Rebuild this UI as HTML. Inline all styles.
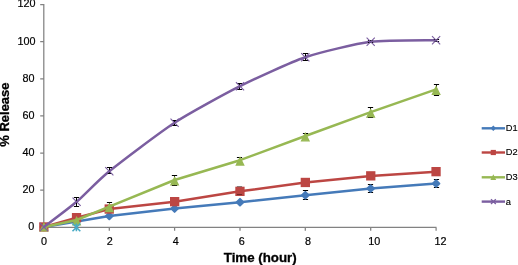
<!DOCTYPE html>
<html><head><meta charset="utf-8"><title>Release chart</title>
<style>html,body{margin:0;padding:0;background:#fff;overflow:hidden}svg{display:block}</style>
</head><body>
<svg width="518" height="265" viewBox="0 0 518 265">
<rect width="518" height="265" fill="#fff"/>
<path d="M43.8,4.1V227.4H436.5M40.2,4.6H43.8M40.2,41.7H43.8M40.2,78.8H43.8M40.2,115.9H43.8M40.2,153.0H43.8M40.2,190.1H43.8M40.2,227.2H43.8M43.9,227.4V230.8M109.3,227.4V230.8M174.6,227.4V230.8M240.0,227.4V230.8M305.3,227.4V230.8M370.7,227.4V230.8M436.1,227.4V230.8" fill="none" stroke="#828282" stroke-width="1.25"/>
<g font-family="Liberation Sans, Arial, Helvetica, sans-serif" font-size="10.8" fill="#000" stroke="#000" stroke-width="0.2">
<text x="35.5" y="7.1" text-anchor="end">120</text>
<text x="35.5" y="44.7" text-anchor="end">100</text>
<text x="34.5" y="81.8" text-anchor="end">80</text>
<text x="34.5" y="118.9" text-anchor="end">60</text>
<text x="34.5" y="156.0" text-anchor="end">40</text>
<text x="34.5" y="193.1" text-anchor="end">20</text>
<text x="34.2" y="230.2" text-anchor="end">0</text>
<text x="44.1" y="244.6" text-anchor="middle">0</text>
<text x="109.7" y="244.6" text-anchor="middle">2</text>
<text x="175.8" y="244.6" text-anchor="middle">4</text>
<text x="241.8" y="244.6" text-anchor="middle">6</text>
<text x="307.9" y="244.6" text-anchor="middle">8</text>
<text x="374.3" y="244.6" text-anchor="middle">10</text>
<text x="440.5" y="244.6" text-anchor="middle">12</text>
</g>
<g font-family="Liberation Sans, Arial, Helvetica, sans-serif" font-weight="bold" fill="#000" stroke="#000" stroke-width="0.3">
<text x="260.2" y="261.6" font-size="13.3" text-anchor="middle">Time (hour)</text>
<text transform="translate(9.3,114.6) rotate(-90)" font-size="13" text-anchor="middle">% Release</text>
</g>
<polyline points="43.9,227.0 76.6,221.6 109.3,216.0 174.6,208.6 240.0,202.2 305.3,195.3 370.7,188.5 436.1,183.6" fill="none" stroke="#457ab9" stroke-width="2.5" stroke-linejoin="round" stroke-linecap="round"/>
<path d="M305.5,190.5V199.5M302.9,190.5h5.2M302.9,199.5h5.2M370.5,184.5V192.5M367.9,184.5h5.2M367.9,192.5h5.2M436.5,179.5V187.5M433.9,179.5h5.2M433.9,187.5h5.2" fill="none" stroke="#000" stroke-width="1"/>
<path d="M43.9,223.7l3.3,3.3l-3.3,3.3l-3.3,-3.3z" fill="#457ab9" stroke="#457ab9" stroke-width="2.0" stroke-linejoin="round"/><path d="M76.6,218.3l3.3,3.3l-3.3,3.3l-3.3,-3.3z" fill="#457ab9" stroke="#457ab9" stroke-width="2.0" stroke-linejoin="round"/><path d="M109.3,212.7l3.3,3.3l-3.3,3.3l-3.3,-3.3z" fill="#457ab9" stroke="#457ab9" stroke-width="2.0" stroke-linejoin="round"/><path d="M174.6,205.3l3.3,3.3l-3.3,3.3l-3.3,-3.3z" fill="#457ab9" stroke="#457ab9" stroke-width="2.0" stroke-linejoin="round"/><path d="M240.0,198.9l3.3,3.3l-3.3,3.3l-3.3,-3.3z" fill="#457ab9" stroke="#457ab9" stroke-width="2.0" stroke-linejoin="round"/><path d="M305.3,192.0l3.3,3.3l-3.3,3.3l-3.3,-3.3z" fill="#457ab9" stroke="#457ab9" stroke-width="2.0" stroke-linejoin="round"/><path d="M370.7,185.2l3.3,3.3l-3.3,3.3l-3.3,-3.3z" fill="#457ab9" stroke="#457ab9" stroke-width="2.0" stroke-linejoin="round"/><path d="M436.1,180.3l3.3,3.3l-3.3,3.3l-3.3,-3.3z" fill="#457ab9" stroke="#457ab9" stroke-width="2.0" stroke-linejoin="round"/>
<polyline points="43.9,227.0 76.6,217.7 109.3,209.1 174.6,201.7 240.0,191.3 305.3,182.5 370.7,175.9 436.1,171.7" fill="none" stroke="#bc4643" stroke-width="2.5" stroke-linejoin="round" stroke-linecap="round"/>
<path d="" fill="none" stroke="#000" stroke-width="1"/>
<rect x="39.2" y="222.3" width="9.3" height="9.3" fill="#bc4643"/><rect x="71.9" y="213.0" width="9.3" height="9.3" fill="#bc4643"/><rect x="104.6" y="204.4" width="9.3" height="9.3" fill="#bc4643"/><rect x="170.0" y="197.0" width="9.3" height="9.3" fill="#bc4643"/><rect x="235.3" y="186.7" width="9.3" height="9.3" fill="#bc4643"/><rect x="300.7" y="177.8" width="9.3" height="9.3" fill="#bc4643"/><rect x="366.1" y="171.2" width="9.3" height="9.3" fill="#bc4643"/><rect x="431.4" y="167.0" width="9.3" height="9.3" fill="#bc4643"/>
<path d="M236.9,186.5h5.2M236.9,194.5h5.2" fill="none" stroke="#000" stroke-width="1" opacity="0.4"/>
<polyline points="43.9,227.0 76.6,220.0 109.3,206.7 174.6,180.0 240.0,160.2 305.3,136.0 370.7,112.2 436.1,89.4" fill="none" stroke="#97b853" stroke-width="2.5" stroke-linejoin="round" stroke-linecap="round"/>
<path d="M109.5,202.5V210.5M106.9,202.5h5.2M106.9,210.5h5.2M174.5,175.5V185.5M171.9,175.5h5.2M171.9,185.5h5.2M239.5,157.5V163.5M236.9,157.5h5.2M236.9,163.5h5.2M305.5,133.5V139.5M302.9,133.5h5.2M302.9,139.5h5.2M370.5,107.5V117.5M367.9,107.5h5.2M367.9,117.5h5.2M436.5,84.5V95.5M433.9,84.5h5.2M433.9,95.5h5.2" fill="none" stroke="#000" stroke-width="1"/>
<path d="M43.9,223.40L47.6,230.85H40.2z" fill="#97b853" stroke="#97b853" stroke-width="1.3" stroke-linejoin="miter" stroke-miterlimit="10"/><path d="M76.6,217.40L80.3,224.85H72.9z" fill="#97b853" stroke="#97b853" stroke-width="1.3" stroke-linejoin="miter" stroke-miterlimit="10"/><path d="M109.3,204.10L113.0,211.55H105.6z" fill="#97b853" stroke="#97b853" stroke-width="1.3" stroke-linejoin="miter" stroke-miterlimit="10"/><path d="M174.6,177.40L178.3,184.85H170.9z" fill="#97b853" stroke="#97b853" stroke-width="1.3" stroke-linejoin="miter" stroke-miterlimit="10"/><path d="M240.0,157.60L243.7,165.05H236.3z" fill="#97b853" stroke="#97b853" stroke-width="1.3" stroke-linejoin="miter" stroke-miterlimit="10"/><path d="M305.3,133.40L309.0,140.85H301.6z" fill="#97b853" stroke="#97b853" stroke-width="1.3" stroke-linejoin="miter" stroke-miterlimit="10"/><path d="M370.7,109.60L374.4,117.05H367.0z" fill="#97b853" stroke="#97b853" stroke-width="1.3" stroke-linejoin="miter" stroke-miterlimit="10"/><path d="M436.1,86.80L439.8,94.25H432.4z" fill="#97b853" stroke="#97b853" stroke-width="1.3" stroke-linejoin="miter" stroke-miterlimit="10"/>
<path d="M171.9,175.5h5.2M171.9,185.5h5.2M367.9,107.5h5.2M367.9,117.5h5.2" fill="none" stroke="#000" stroke-width="1" opacity="0.5"/>
<path d="M72.5,223.5l7.8,7.8M72.5,231.3l7.8,-7.8M76.4,223.5v7.8" fill="none" stroke="#46aac5" stroke-width="1.6"/>
<path d="M43.9,227.0 C47.5,224.2 69.3,208.0 76.6,201.8 C83.8,195.6 98.4,180.0 109.3,171.2 C120.2,162.4 160.1,132.1 174.6,122.7 C189.1,113.3 225.5,93.5 240.0,86.2 C254.5,78.9 290.8,62.1 305.3,57.2 C319.9,52.3 356.2,43.7 370.7,41.8 C385.2,39.9 428.8,40.4 436.1,40.2" fill="none" stroke="#7b5ea0" stroke-width="2.5" stroke-linecap="round"/>
<path d="M76.5,197.5V206.5M73.9,197.5h5.2M73.9,206.5h5.2M109.5,167.5V173.5M106.9,167.5h5.2M106.9,173.5h5.2M174.5,120.5V125.5M171.9,120.5h5.2M171.9,125.5h5.2M239.5,83.5V89.5M236.9,83.5h5.2M236.9,89.5h5.2M305.5,53.5V60.5M302.9,53.5h5.2M302.9,60.5h5.2M370.5,40.5V42.5M367.9,40.5h5.2M367.9,42.5h5.2M436.5,39.5V41.5M433.9,39.5h5.2M433.9,41.5h5.2" fill="none" stroke="#000" stroke-width="1"/>
<path d="M39.8,222.9l8.2,8.2M39.8,231.1l8.2,-8.2M72.5,197.7l8.2,8.2M72.5,205.9l8.2,-8.2M105.2,167.1l8.2,8.2M105.2,175.3l8.2,-8.2M170.5,118.6l8.2,8.2M170.5,126.8l8.2,-8.2M235.9,82.1l8.2,8.2M235.9,90.3l8.2,-8.2M301.2,53.1l8.2,8.2M301.2,61.3l8.2,-8.2M366.6,37.7l8.2,8.2M366.6,45.9l8.2,-8.2M432.0,36.1l8.2,8.2M432.0,44.3l8.2,-8.2" fill="none" stroke="#7b5ea0" stroke-width="1.1"/>
<g font-family="Liberation Sans, Arial, Helvetica, sans-serif" font-size="9.3" fill="#000" stroke="#000" stroke-width="0.15">
<text x="505.7" y="131.2">D1</text>
<text x="505.7" y="155.4">D2</text>
<text x="505.7" y="180.2">D3</text>
<text x="505.7" y="204.5">a</text>
</g>
<path d="M481.7,128.3H505" stroke="#457ab9" stroke-width="2.4" fill="none"/>
<path d="M493.3,125.50000000000001l2.8,2.8l-2.8,2.8l-2.8,-2.8z" fill="#457ab9"/>
<path d="M481.7,152.5H505" stroke="#bc4643" stroke-width="2.4" fill="none"/>
<rect x="490.7" y="149.9" width="5.2" height="5.2" fill="#bc4643"/>
<path d="M481.7,177.3H505" stroke="#97b853" stroke-width="2.4" fill="none"/>
<path d="M493.3,174.3l2.9,5.6h-5.8z" fill="#97b853"/>
<path d="M481.7,201.6H505" stroke="#7b5ea0" stroke-width="2.4" fill="none"/>
<path d="M491.0,199.2l4.8,4.8M491.0,204.0l4.8,-4.8" stroke="#7b5ea0" stroke-width="1.3" fill="none"/>
</svg>
</body></html>
